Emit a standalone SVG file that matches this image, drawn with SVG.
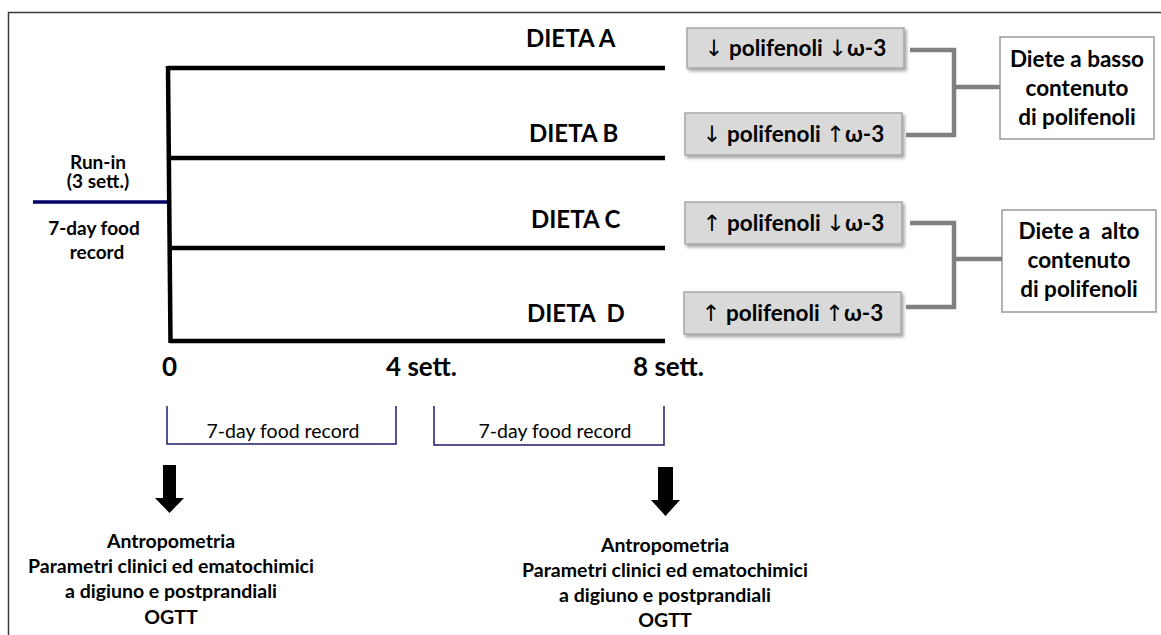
<svg xmlns="http://www.w3.org/2000/svg" width="1161" height="635" viewBox="0 0 1161 635">
  <defs>
    <filter id="shadow" x="-10%" y="-20%" width="125%" height="150%">
      <feDropShadow dx="2" dy="2.5" stdDeviation="1.5" flood-color="#000" flood-opacity="0.35"/>
    </filter>
  </defs>
  <style>
    text { font-family: Lato, "Liberation Sans", "DejaVu Sans", sans-serif; fill: #000; }
    .b { font-weight: bold; }
    .mid { text-anchor: middle; }
    .diet { font-size: 24px; font-weight: bold; }
    .axis { font-size: 26px; font-weight: bold; }
    .tag { font-size: 22.5px; font-weight: bold; text-anchor: middle; }
    .group { font-size: 22.5px; font-weight: bold; text-anchor: middle; }
    .note { font-size: 19.5px; font-weight: bold; text-anchor: middle; }
    .rec { font-size: 19.5px; text-anchor: middle; }
    .sym { font-family: "DejaVu Sans", sans-serif; font-weight: normal; }
    .tline { fill: none; stroke: #000; stroke-width: 4.5; }
    .link { fill: none; stroke: #808080; stroke-width: 4.5; }
    .brk { fill: none; stroke: #1c1c6e; stroke-width: 1.5; }
    .tagbox { fill: #d9d9d9; stroke: #a6a6a6; stroke-width: 1.5; filter: url(#shadow); }
    .grpbox { fill: #fff; stroke: #9a9a9a; stroke-width: 1.5; }
  </style>

  <!-- frame -->
  <path d="M8.5 635 V12.5 H1161" fill="none" stroke="#3a3a3a" stroke-width="1.5"/>

  <!-- run-in period -->
  <g id="runin">
    <line x1="33" y1="202" x2="167" y2="202" stroke="#000066" stroke-width="3.5"/>
    <text class="mid b" x="98" y="169" font-size="19">Run-in</text>
    <text class="mid b" x="98" y="188" font-size="19">(3 sett.)</text>
    <text class="mid b" x="94" y="235" font-size="19">7-day food</text>
    <text class="mid b" x="97" y="259" font-size="19">record</text>
  </g>

  <!-- diet timelines -->
  <g id="timeline">
    <path class="tline" d="M168 66 L170.5 343"/>
    <line class="tline" x1="168" y1="68" x2="665" y2="68"/>
    <line class="tline" x1="168" y1="158" x2="665" y2="158"/>
    <line class="tline" x1="169" y1="248" x2="665" y2="248"/>
    <line class="tline" x1="170" y1="341" x2="665" y2="341"/>
  </g>

  <g id="dietA"><text class="diet" x="526" y="47">DIETA A</text></g>
  <g id="dietB"><text class="diet" x="529" y="142">DIETA B</text></g>
  <g id="dietC"><text class="diet" x="531" y="228">DIETA C</text></g>
  <g id="dietD"><text class="diet" x="527" y="322" xml:space="preserve">DIETA  D</text></g>

  <!-- week axis -->
  <g id="axis">
    <text class="axis" x="162" y="376">0</text>
    <text class="axis" x="386" y="376">4 sett.</text>
    <text class="axis" x="633" y="376">8 sett.</text>
  </g>

  <!-- diet composition tags -->
  <g id="tagA">
    <rect class="tagbox" x="687" y="28" width="217" height="40"/>
    <text class="tag" x="795.5" y="56"><tspan class="sym">↓</tspan> polifenoli <tspan class="sym">↓</tspan>ω-3</text>
  </g>
  <g id="tagB">
    <rect class="tagbox" x="685" y="113" width="217" height="42"/>
    <text class="tag" x="793.5" y="142"><tspan class="sym">↓</tspan> polifenoli <tspan class="sym">↑</tspan>ω-3</text>
  </g>
  <g id="tagC">
    <rect class="tagbox" x="685" y="202" width="217" height="42"/>
    <text class="tag" x="793.5" y="231"><tspan class="sym">↑</tspan> polifenoli <tspan class="sym">↓</tspan>ω-3</text>
  </g>
  <g id="tagD">
    <rect class="tagbox" x="684" y="292" width="217" height="42"/>
    <text class="tag" x="792.5" y="321"><tspan class="sym">↑</tspan> polifenoli <tspan class="sym">↑</tspan>ω-3</text>
  </g>

  <!-- grouping boxes -->
  <g id="groupLow">
    <rect class="grpbox" x="1000" y="37" width="154" height="102"/>
    <text class="group" x="1077" y="67">Diete a basso</text>
    <text class="group" x="1077" y="96">contenuto</text>
    <text class="group" x="1077" y="125">di polifenoli</text>
  </g>
  <g id="groupHigh">
    <rect class="grpbox" x="1002" y="210" width="154" height="102"/>
    <text class="group" x="1079" y="239" xml:space="preserve">Diete a  alto</text>
    <text class="group" x="1079" y="268">contenuto</text>
    <text class="group" x="1079" y="297">di polifenoli</text>
  </g>

  <!-- bracket connectors -->
  <g id="connectors">
    <path class="link" d="M910 50 H954 V135 H906"/>
    <line class="link" x1="954" y1="87" x2="1000" y2="87"/>
    <path class="link" d="M910 223 H954 V307 H906"/>
    <line class="link" x1="954" y1="259" x2="1002" y2="259"/>
  </g>

  <!-- food record spans -->
  <g id="record1">
    <path class="brk" d="M167 406 V444 H396 V406"/>
    <text class="rec" x="283" y="438">7-day food record</text>
  </g>
  <g id="record2">
    <path class="brk" d="M434 406 V445 H664 V406"/>
    <text class="rec" x="555" y="438">7-day food record</text>
  </g>

  <!-- assessments -->
  <g id="assess0">
    <path d="M163 465 H176 V498 H184 L169.5 513 L155 498 H163 Z" fill="#000"/>
    <text class="note" x="171" y="548">Antropometria</text>
    <text class="note" x="171" y="573">Parametri clinici ed ematochimici</text>
    <text class="note" x="171" y="598">a digiuno e postprandiali</text>
    <text class="note" x="171" y="624">OGTT</text>
  </g>
  <g id="assess8">
    <path d="M658 467 H673 V500 H680 L665.5 516 L651 500 H658 Z" fill="#000"/>
    <text class="note" x="665" y="552">Antropometria</text>
    <text class="note" x="665" y="577">Parametri clinici ed ematochimici</text>
    <text class="note" x="665" y="602">a digiuno e postprandiali</text>
    <text class="note" x="665" y="627">OGTT</text>
  </g>
</svg>
